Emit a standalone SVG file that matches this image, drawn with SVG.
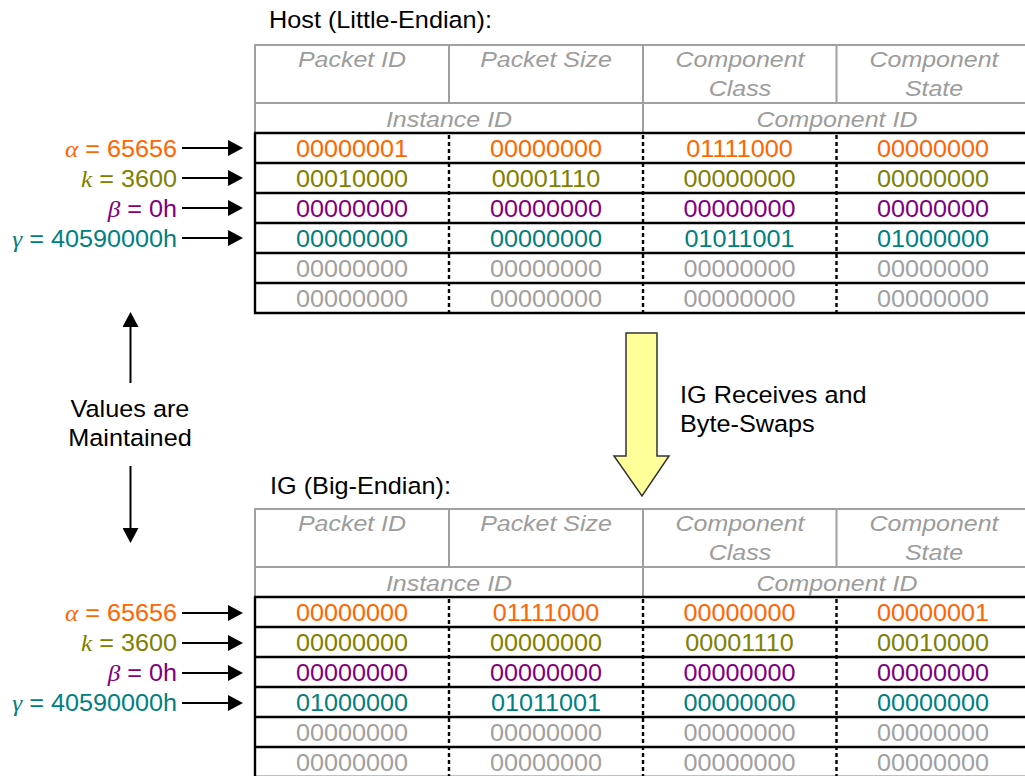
<svg xmlns="http://www.w3.org/2000/svg" width="1025" height="776" viewBox="0 0 1025 776">
  <style>
    text { font-family: "Liberation Sans", Arial, sans-serif; }
    .title { font-size: 23.5px; fill: #000; }
    .ctr { text-anchor: middle; }
    .hdr { font-size: 23px; font-style: italic; fill: #9c9c9c; text-anchor: middle; }
    .bits { font-size: 24px; text-anchor: middle; }
    .lbl { font-size: 24px; text-anchor: end; }
    .greek { font-family: "Liberation Serif", "Times New Roman", serif; font-style: italic; }
    .grid { stroke: #a0a0a0; stroke-width: 2; fill: none; }
    .rule { stroke: #000; stroke-width: 2.4; fill: none; }
    .dots { stroke: #000; stroke-width: 2.4; stroke-dasharray: 4 3; fill: none; }
    .c1 { fill: #ff6600; }
    .c2 { fill: #808000; }
    .c3 { fill: #800080; }
    .c4 { fill: #008080; }
    .c5 { fill: #a0a0a0; }
    .conn { stroke: #000; stroke-width: 2; fill: none; }
  </style>
  <defs>
    <marker id="head" viewBox="0 0 15 16" refX="0" refY="8" markerWidth="15" markerHeight="16" markerUnits="userSpaceOnUse" orient="auto">
      <path d="M0,0 L15,8 L0,16 z" fill="#000"/>
    </marker>
    <!-- shared grid of one register table; rows start at y=45 -->
    <g id="table-grid">
      <line class="grid" x1="254" y1="45" x2="1030" y2="45"/>
      <line class="grid" x1="255" y1="45" x2="255" y2="133"/>
      <line class="grid" x1="255" y1="103" x2="1030" y2="103"/>
      <line class="grid" x1="449" y1="45" x2="449" y2="103"/>
      <line class="grid" x1="643" y1="45" x2="643" y2="133"/>
      <line class="grid" x1="836.5" y1="45" x2="836.5" y2="103"/>
      <line class="rule" x1="255" y1="133" x2="255" y2="314"/>
      <line class="rule" x1="254" y1="133" x2="1030" y2="133" stroke-width="3"/>
      <line class="rule" x1="254" y1="163" x2="1030" y2="163"/>
      <line class="rule" x1="254" y1="193" x2="1030" y2="193"/>
      <line class="rule" x1="254" y1="223" x2="1030" y2="223"/>
      <line class="rule" x1="254" y1="253" x2="1030" y2="253"/>
      <line class="rule" x1="254" y1="283" x2="1030" y2="283"/>
      <line class="rule" x1="254" y1="313" x2="1030" y2="313"/>
      <line class="dots" x1="449" y1="135" x2="449" y2="312"/>
      <line class="dots" x1="643" y1="135" x2="643" y2="312"/>
      <line class="dots" x1="836.5" y1="135" x2="836.5" y2="312"/>
      <text class="hdr" transform="matrix(1.085 0 0 1 352 67)">Packet ID</text>
      <text class="hdr" transform="matrix(1.085 0 0 1 546 67)">Packet Size</text>
      <text class="hdr" transform="matrix(1.085 0 0 1 740 67)">Component</text>
      <text class="hdr" transform="matrix(1.085 0 0 1 740 96)">Class</text>
      <text class="hdr" transform="matrix(1.085 0 0 1 934 67)">Component</text>
      <text class="hdr" transform="matrix(1.085 0 0 1 934 96)">State</text>
      <text class="hdr" transform="matrix(1.085 0 0 1 449 127)">Instance ID</text>
      <text class="hdr" transform="matrix(1.085 0 0 1 837 127)">Component ID</text>
    </g>
  </defs>

  <!-- Host table (little-endian byte order) -->
  <g id="host-table">
    <text class="title" transform="matrix(1.075 0 0 1 269 28)">Host (Little-Endian):</text>
    <use href="#table-grid"/>
    <g class="bits">
      <text class="c1" transform="matrix(1.05 0 0 1 352 157)">00000001</text>
      <text class="c1" transform="matrix(1.05 0 0 1 546 157)">00000000</text>
      <text class="c1" transform="matrix(1.05 0 0 1 739.5 157)">01111000</text>
      <text class="c1" transform="matrix(1.05 0 0 1 933 157)">00000000</text>
      <text class="c2" transform="matrix(1.05 0 0 1 352 187)">00010000</text>
      <text class="c2" transform="matrix(1.05 0 0 1 546 187)">00001110</text>
      <text class="c2" transform="matrix(1.05 0 0 1 739.5 187)">00000000</text>
      <text class="c2" transform="matrix(1.05 0 0 1 933 187)">00000000</text>
      <text class="c3" transform="matrix(1.05 0 0 1 352 217)">00000000</text>
      <text class="c3" transform="matrix(1.05 0 0 1 546 217)">00000000</text>
      <text class="c3" transform="matrix(1.05 0 0 1 739.5 217)">00000000</text>
      <text class="c3" transform="matrix(1.05 0 0 1 933 217)">00000000</text>
      <text class="c4" transform="matrix(1.05 0 0 1 352 247)">00000000</text>
      <text class="c4" transform="matrix(1.05 0 0 1 546 247)">00000000</text>
      <text class="c4" transform="matrix(1.05 0 0 1 739.5 247)">01011001</text>
      <text class="c4" transform="matrix(1.05 0 0 1 933 247)">01000000</text>
      <text class="c5" transform="matrix(1.05 0 0 1 352 277)">00000000</text>
      <text class="c5" transform="matrix(1.05 0 0 1 546 277)">00000000</text>
      <text class="c5" transform="matrix(1.05 0 0 1 739.5 277)">00000000</text>
      <text class="c5" transform="matrix(1.05 0 0 1 933 277)">00000000</text>
      <text class="c5" transform="matrix(1.05 0 0 1 352 307)">00000000</text>
      <text class="c5" transform="matrix(1.05 0 0 1 546 307)">00000000</text>
      <text class="c5" transform="matrix(1.05 0 0 1 739.5 307)">00000000</text>
      <text class="c5" transform="matrix(1.05 0 0 1 933 307)">00000000</text>
    </g>
  </g>

  <!-- IG table (big-endian byte order) -->
  <g id="ig-table">
    <text class="title" transform="matrix(1.075 0 0 1 270 494)">IG (Big-Endian):</text>
    <use href="#table-grid" transform="translate(0 464)"/>
    <g class="bits">
      <text class="c1" transform="matrix(1.05 0 0 1 352 621)">00000000</text>
      <text class="c1" transform="matrix(1.05 0 0 1 546 621)">01111000</text>
      <text class="c1" transform="matrix(1.05 0 0 1 739.5 621)">00000000</text>
      <text class="c1" transform="matrix(1.05 0 0 1 933 621)">00000001</text>
      <text class="c2" transform="matrix(1.05 0 0 1 352 651)">00000000</text>
      <text class="c2" transform="matrix(1.05 0 0 1 546 651)">00000000</text>
      <text class="c2" transform="matrix(1.05 0 0 1 739.5 651)">00001110</text>
      <text class="c2" transform="matrix(1.05 0 0 1 933 651)">00010000</text>
      <text class="c3" transform="matrix(1.05 0 0 1 352 681)">00000000</text>
      <text class="c3" transform="matrix(1.05 0 0 1 546 681)">00000000</text>
      <text class="c3" transform="matrix(1.05 0 0 1 739.5 681)">00000000</text>
      <text class="c3" transform="matrix(1.05 0 0 1 933 681)">00000000</text>
      <text class="c4" transform="matrix(1.05 0 0 1 352 711)">01000000</text>
      <text class="c4" transform="matrix(1.05 0 0 1 546 711)">01011001</text>
      <text class="c4" transform="matrix(1.05 0 0 1 739.5 711)">00000000</text>
      <text class="c4" transform="matrix(1.05 0 0 1 933 711)">00000000</text>
      <text class="c5" transform="matrix(1.05 0 0 1 352 741)">00000000</text>
      <text class="c5" transform="matrix(1.05 0 0 1 546 741)">00000000</text>
      <text class="c5" transform="matrix(1.05 0 0 1 739.5 741)">00000000</text>
      <text class="c5" transform="matrix(1.05 0 0 1 933 741)">00000000</text>
      <text class="c5" transform="matrix(1.05 0 0 1 352 771)">00000000</text>
      <text class="c5" transform="matrix(1.05 0 0 1 546 771)">00000000</text>
      <text class="c5" transform="matrix(1.05 0 0 1 739.5 771)">00000000</text>
      <text class="c5" transform="matrix(1.05 0 0 1 933 771)">00000000</text>
    </g>
  </g>

  <!-- value labels beside the host rows -->
  <g id="host-labels">
    <text class="lbl c1" transform="matrix(1.05 0 0 1 177 157)"><tspan class="greek">α</tspan> = 65656</text>
    <text class="lbl c2" transform="matrix(1.05 0 0 1 177 187)"><tspan class="greek">k</tspan> = 3600</text>
    <text class="lbl c3" transform="matrix(1.05 0 0 1 177 217)"><tspan class="greek">β</tspan> = 0h</text>
    <text class="lbl c4" transform="matrix(1.05 0 0 1 177 247)"><tspan class="greek">γ</tspan> = 40590000h</text>
  </g>

  <!-- value labels beside the IG rows -->
  <g id="ig-labels">
    <text class="lbl c1" transform="matrix(1.05 0 0 1 177 621)"><tspan class="greek">α</tspan> = 65656</text>
    <text class="lbl c2" transform="matrix(1.05 0 0 1 177 651)"><tspan class="greek">k</tspan> = 3600</text>
    <text class="lbl c3" transform="matrix(1.05 0 0 1 177 681)"><tspan class="greek">β</tspan> = 0h</text>
    <text class="lbl c4" transform="matrix(1.05 0 0 1 177 711)"><tspan class="greek">γ</tspan> = 40590000h</text>
  </g>

  <!-- side note -->
  <g id="maintained-note">
    <text class="title ctr" transform="matrix(1.075 0 0 1 130 417)">Values are</text>
    <text class="title ctr" transform="matrix(1.075 0 0 1 130 446)">Maintained</text>
  </g>

  <!-- byte-swap step -->
  <g id="byte-swap">
    <polygon points="626,333 657,333 657,456 669,456 642,496 614,456 626,456" fill="#ffff99" stroke="#333" stroke-width="1.5" stroke-linejoin="miter"/>
    <text class="title" transform="matrix(1.075 0 0 1 680 403)">IG Receives and</text>
    <text class="title" transform="matrix(1.075 0 0 1 680 432)">Byte-Swaps</text>
  </g>

  <!-- connectors -->
  <g id="connectors">
    <line class="conn" x1="182" y1="148" x2="228" y2="148" marker-end="url(#head)"/>
    <line class="conn" x1="182" y1="178" x2="228" y2="178" marker-end="url(#head)"/>
    <line class="conn" x1="182" y1="208" x2="228" y2="208" marker-end="url(#head)"/>
    <line class="conn" x1="182" y1="238" x2="228" y2="238" marker-end="url(#head)"/>
    <line class="conn" x1="182" y1="613" x2="228" y2="613" marker-end="url(#head)"/>
    <line class="conn" x1="182" y1="643" x2="228" y2="643" marker-end="url(#head)"/>
    <line class="conn" x1="182" y1="673" x2="228" y2="673" marker-end="url(#head)"/>
    <line class="conn" x1="182" y1="703" x2="228" y2="703" marker-end="url(#head)"/>
    <line class="conn" x1="130.5" y1="383" x2="130.5" y2="327" marker-end="url(#head)"/>
    <line class="conn" x1="130.5" y1="466" x2="130.5" y2="528" marker-end="url(#head)"/>
  </g>
</svg>
